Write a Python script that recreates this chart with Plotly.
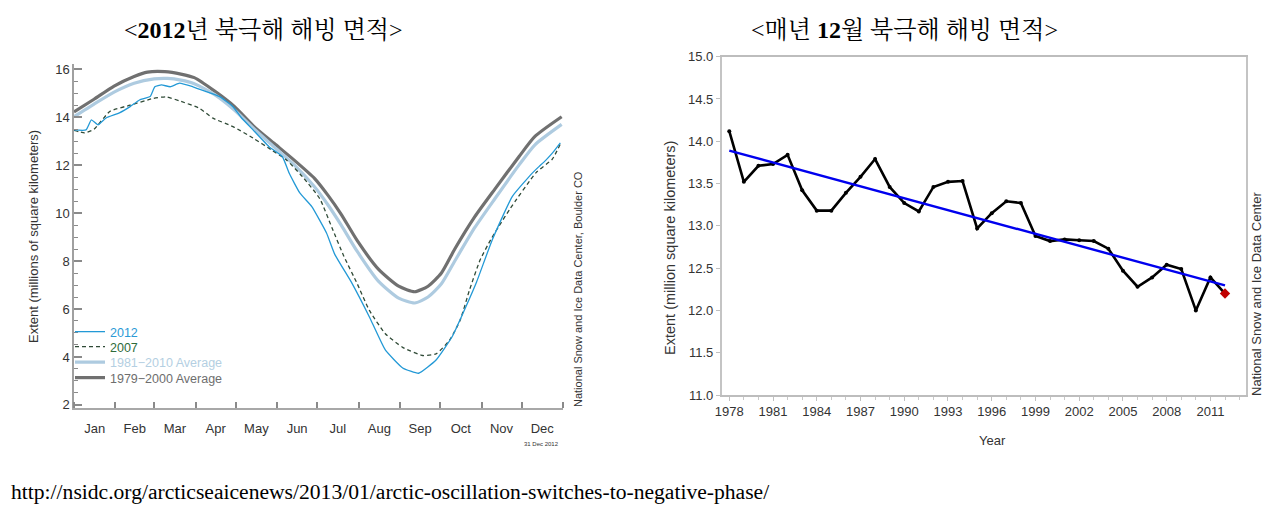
import numpy as np
import plotly.graph_objects as go

# ---------------- data: left chart (daily Arctic sea ice extent, 2012) ----------------
month_labels = ["Jan", "Feb", "Mar", "Apr", "May", "Jun", "Jul", "Aug", "Sep", "Oct", "Nov", "Dec"]
month_bounds = [0, 31, 60, 91, 121, 152, 182, 213, 244, 274, 305, 335, 366]

avg7900_day = [0, 15, 30, 45, 55, 68, 80, 90, 105, 120, 135, 150, 165, 180, 190, 200, 212,
               228, 243, 255, 265, 275, 285, 300, 315, 333, 345, 365]
avg7900_val = [14.22, 14.75, 15.3, 15.7, 15.88, 15.9, 15.8, 15.65, 15.1, 14.45, 13.6, 12.9, 12.2,
               11.45, 10.75, 9.95, 8.85, 7.65, 6.95, 6.72, 6.95, 7.5, 8.5, 9.85, 11.0, 12.35, 13.2, 14.02]

avg8110_day = [0, 15, 30, 45, 60, 70, 80, 90, 105, 120, 135, 150, 165, 180, 190, 200, 212,
               228, 243, 255, 265, 275, 285, 300, 315, 333, 345, 365]
avg8110_val = [14.02, 14.55, 15.05, 15.42, 15.6, 15.62, 15.55, 15.4, 14.95, 14.3, 13.5, 12.75, 12.0,
               11.1, 10.35, 9.5, 8.4, 7.15, 6.45, 6.25, 6.5, 7.05, 8.0, 9.4, 10.6, 12.0, 12.85, 13.7]

y2012_day = [0, 9, 13, 18, 24, 34, 42, 49, 57, 60.5, 65.5, 72, 79, 89, 99, 109, 119, 125, 134,
             146, 156, 161, 169, 178, 189, 195, 208, 221, 233, 246, 258, 271, 283, 290, 301, 313,
             328, 343, 348, 353, 358, 364]
y2012_val = [13.47, 13.47, 13.89, 13.68, 13.97, 14.18, 14.44, 14.72, 14.86, 15.27, 15.35, 15.27,
             15.42, 15.27, 15.07, 14.86, 14.44, 14.0, 13.47, 12.77, 12.35, 11.67, 10.84, 10.27, 9.17,
             8.3, 7.08, 5.68, 4.29, 3.54, 3.32, 3.87, 4.84, 5.68, 7.08, 8.88, 10.69, 11.67, 11.94,
             12.2, 12.5, 12.93]

y2007_day = [0, 8, 15, 27, 42, 59, 69, 79, 94, 104, 119, 134, 148, 159, 171, 184, 193, 202, 212,
             221, 233, 246, 261, 271, 281, 289, 296, 304, 312, 318, 326, 346, 358, 364]
y2007_val = [13.45, 13.35, 13.5, 14.25, 14.5, 14.78, 14.85, 14.68, 14.37, 13.96, 13.61, 13.13, 12.63,
             12.22, 11.52, 10.6, 9.4, 8.2, 7.05, 5.95, 4.97, 4.4, 4.06, 4.13, 4.69, 5.53, 6.79, 8.05,
             8.9, 9.45, 10.15, 11.7, 12.25, 12.88]

# ---------------- data: right chart (December extent by year) ----------------
dec_years = list(range(1978, 2013))
dec_extent = [14.12, 13.52, 13.71, 13.73, 13.84, 13.42, 13.18, 13.18, 13.39, 13.58, 13.79, 13.46,
              13.27, 13.17, 13.46, 13.52, 13.53, 12.97, 13.15, 13.29, 13.27, 12.88, 12.82, 12.84,
              12.83, 12.82, 12.73, 12.47, 12.28, 12.39, 12.54, 12.49, 12.00, 12.39, 12.20]
year_ticks = list(range(1978, 2012, 3))
extent_ticks = [11.0, 11.5, 12.0, 12.5, 13.0, 13.5, 14.0, 14.5, 15.0]

# the page body has an 8px margin, so the figure is sized to fit inside the window
OFF = 8
W, H = 1276 - 2 * OFF, 532 - 2 * OFF
def px(x):
    return (x - OFF) / W
def py(y):
    return 1 - (y - OFF) / H

SANS = "Liberation Sans, Arial, sans-serif"
SERIF = "Liberation Serif, Times New Roman, Noto Serif CJK KR, Noto Sans CJK KR, serif"

fig = go.Figure()

# left chart traces (each in its own legend box so rows sit at the reference spacing)
fig.add_trace(go.Scatter(
    x=avg7900_day, y=avg7900_val, mode="lines", legend="legend4",
    name="<span style='color:#6e6e6e'>1979\u22122000 Average</span>",
    line=dict(color="#707070", width=3.2, shape="spline", smoothing=0.6),
    xaxis="x", yaxis="y"))
fig.add_trace(go.Scatter(
    x=avg8110_day, y=avg8110_val, mode="lines", legend="legend3",
    name="<span style='color:#b4cfe2'>1981\u22122010 Average</span>",
    line=dict(color="#aecbe0", width=3.2, shape="spline", smoothing=0.6),
    xaxis="x", yaxis="y"))
fig.add_trace(go.Scatter(
    x=y2007_day, y=y2007_val, mode="lines", legend="legend2",
    name="<span style='color:#2e6b3a'>2007</span>",
    line=dict(color="#2f4a36", width=1.3, dash="4px,3px", shape="spline", smoothing=0.5),
    xaxis="x", yaxis="y"))
fig.add_trace(go.Scatter(
    x=y2012_day, y=y2012_val, mode="lines", legend="legend",
    name="<span style='color:#2b9ad6'>2012</span>",
    line=dict(color="#2399d6", width=1.3, shape="spline", smoothing=0.4),
    xaxis="x", yaxis="y"))

# right chart traces
coef = np.polyfit(dec_years, dec_extent, 1)
trend_y = np.polyval(coef, [dec_years[0], dec_years[-1]])
fig.add_trace(go.Scatter(
    x=dec_years, y=dec_extent, mode="lines+markers", showlegend=False,
    line=dict(color="black", width=2.6), marker=dict(color="black", size=4),
    xaxis="x2", yaxis="y2"))
fig.add_trace(go.Scatter(
    x=[dec_years[0], dec_years[-1]], y=trend_y, mode="lines", showlegend=False,
    line=dict(color="#0000ee", width=2.4),
    xaxis="x2", yaxis="y2"))
fig.add_trace(go.Scatter(
    x=[dec_years[-1]], y=[dec_extent[-1]], mode="markers", showlegend=False,
    marker=dict(color="#c00000", size=8, symbol="diamond"),
    xaxis="x2", yaxis="y2"))

mids = [(month_bounds[i] + month_bounds[i + 1]) / 2 for i in range(12)]

def legend_box(row_y):
    return dict(x=px(70), y=py(row_y), xanchor="left", yanchor="middle",
                bgcolor="rgba(0,0,0,0)", borderwidth=0, itemwidth=30,
                font=dict(size=12.5, family=SANS))

fig.update_layout(
    template=None,
    width=W, height=H, margin=dict(l=0, r=0, t=0, b=0, pad=0, autoexpand=False),
    paper_bgcolor="white", plot_bgcolor="white",
    font=dict(family=SANS, color="#333333"),
    xaxis=dict(
        domain=[px(74), px(563)], range=[0, 366], anchor="y", automargin=False,
        tickmode="array", tickvals=mids, ticktext=month_labels, ticks="",
        ticklabelstandoff=7,
        tickfont=dict(size=13, color="#333333", family=SANS),
        showline=True, linecolor="#a8a8a8", linewidth=2, showgrid=False, zeroline=False,
        minor=dict(tickmode="array", tickvals=month_bounds, ticks="inside", ticklen=6,
                   tickcolor="#8a8a8a", tickwidth=1.5, showgrid=False),
    ),
    yaxis=dict(
        domain=[py(408), py(64)], range=[1.87, 16.22], anchor="x", automargin=False,
        tickmode="array", tickvals=[2, 4, 6, 8, 10, 12, 14, 16], ticks="inside", ticklen=8,
        tickcolor="#8a8a8a", tickwidth=1.5,
        tickfont=dict(size=13, color="#333333", family=SANS),
        showline=True, linecolor="#a0a0a0", linewidth=1.5, showgrid=False, zeroline=False,
        minor=dict(tick0=0, dtick=0.5, ticks="inside", ticklen=4, tickcolor="#8a8a8a",
                   tickwidth=1.2, showgrid=False),
    ),
    xaxis2=dict(
        domain=[px(721.7), px(1245.7)], range=[1977.48, 2013.42], anchor="y2", automargin=False,
        tickmode="array", tickvals=year_ticks, ticks="outside", ticklen=4, tickcolor="#c0c0c0",
        tickfont=dict(size=13, color="#333333", family=SANS),
        showline=True, mirror=True, linecolor="#bdbdbd", linewidth=1.6,
        showgrid=False, zeroline=False,
        minor=dict(dtick=1, tick0=1978, ticks="outside", ticklen=3, tickcolor="#c8c8c8",
                   showgrid=False),
    ),
    yaxis2=dict(
        domain=[py(395), py(56.7)], range=[11, 15], anchor="x2", automargin=False,
        tickmode="array", tickvals=extent_ticks, tickformat=".1f",
        ticks="outside", ticklen=4, tickcolor="#c0c0c0",
        tickfont=dict(size=13, color="#333333", family=SANS),
        showline=True, mirror=True, linecolor="#c4c4c4", linewidth=1.6,
        showgrid=False, zeroline=False,
    ),
    legend=legend_box(332),
    legend2=legend_box(347),
    legend3=legend_box(362.5),
    legend4=legend_box(378),
    showlegend=True,
)

annotations = [
    dict(text="&lt;<b>2012</b>년 북극해 해빙 면적&gt;", x=px(263), y=py(30),
         font=dict(family=SERIF, size=24, color="black")),
    dict(text="&lt;매년 <b>12</b>월 북극해 해빙 면적&gt;", x=px(904), y=py(30),
         font=dict(family=SERIF, size=24, color="black")),
    dict(text="http://nsidc.org/arcticseaicenews/2013/01/arctic-oscillation-switches-to-negative-phase/",
         x=px(9), y=py(492), xanchor="left",
         font=dict(family=SERIF, size=21.6, color="black")),
    dict(text="Extent (millions of square kilometers)", x=px(33), y=py(237), textangle=-90,
         font=dict(family=SANS, size=13, color="#333333")),
    dict(text="National Snow and Ice Data Center, Boulder CO", x=px(578), y=py(289), textangle=-90,
         font=dict(family=SANS, size=11, color="#333333")),
    dict(text="31 Dec 2012", x=px(541), y=py(444),
         font=dict(family=SANS, size=6, color="#333333")),
    dict(text="Extent (million square kilometers)", x=px(670), y=py(248), textangle=-90,
         font=dict(family=SANS, size=14.5, color="#333333")),
    dict(text="Year", x=px(992), y=py(440),
         font=dict(family=SANS, size=13, color="#333333")),
    dict(text="National Snow and Ice Data Center", x=px(1256), y=py(294), textangle=-90,
         font=dict(family=SANS, size=13, color="#333333")),
]
for a in annotations:
    a.update(xref="paper", yref="paper", showarrow=False)
    a.setdefault("xanchor", "center")
    a.setdefault("yanchor", "middle")
fig.update_layout(annotations=annotations)

fig.write_html("out.html")
